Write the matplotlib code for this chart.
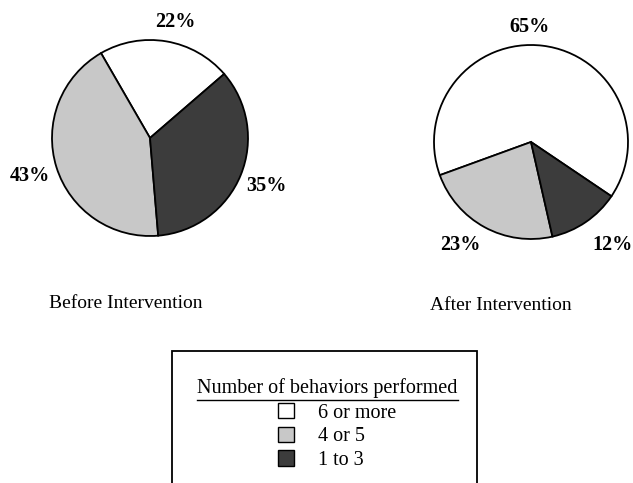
import matplotlib
matplotlib.use("Agg")
import matplotlib.pyplot as plt
from matplotlib.patches import Patch, Rectangle

plt.rcParams['font.family'] = ['Liberation Serif', 'DejaVu Serif']

categories = ['6 or more', '4 or 5', '1 to 3']
colors = ['white', '#c8c8c8', '#3c3c3c']
before = [22, 43, 35]
after = [65, 23, 12]
before_labels = ['22%', '43%', '35%']
after_labels = ['65%', '23%', '12%']

W, H = 633, 483
fig = plt.figure(figsize=(W / 100, H / 100), dpi=100)
ax = fig.add_axes([0, 0, 1, 1])

# pie charts in pixel space (y measured from the bottom)
wedge_style = dict(edgecolor='black', linewidth=1.3)
ax.pie(before, colors=colors, startangle=40.8, counterclock=True,
       center=(150, H - 138), radius=98, wedgeprops=wedge_style)
ax.pie(after, colors=colors, startangle=-34, counterclock=True,
       center=(531, H - 142), radius=97, wedgeprops=wedge_style)

ax.set_xlim(0, W)
ax.set_ylim(0, H)
ax.set_aspect('equal')
ax.axis('off')

pct_font = dict(fontsize=14.5, fontweight='bold', ha='center', va='center')
for txt, (x, y) in zip(before_labels, [(175, 22), (30, 176), (266, 186)]):
    ax.text(x, H - y, txt, **pct_font)
for txt, (x, y) in zip(after_labels, [(530, 27), (460, 245), (612, 245)]):
    ax.text(x, H - y, txt, **pct_font)

ax.text(126, H - 304, 'Before Intervention', fontsize=14, ha='center', va='center')
ax.text(501, H - 305, 'After Intervention', fontsize=14, ha='center', va='center')

# legend box runs off the bottom edge
ax.add_patch(Rectangle((172, -20), 305, H - 351 + 20, facecolor='none',
                       edgecolor='black', linewidth=1.3, clip_on=False))

title = ax.text(327.5, H - 388, 'Number of behaviors performed', fontsize=14.5,
                ha='center', va='center')

handles = [Patch(facecolor=c, edgecolor='black', linewidth=1.0) for c in colors]
leg = ax.legend(handles, categories, loc='upper left',
                bbox_to_anchor=(278 / W, 1 - 403 / H),
                frameon=False, fontsize=14.5,
                handlelength=0.8, handleheight=0.8, handletextpad=1.2,
                labelspacing=0.2, borderpad=0, borderaxespad=0)

# underline the legend title
fig.canvas.draw()
bb = title.get_window_extent()
inv = ax.transData.inverted()
(x0, _), (x1, _) = inv.transform([(bb.x0, bb.y0), (bb.x1, bb.y0)])
ax.plot([x0, x1], [H - 400, H - 400], color='black', linewidth=1.0)

fig.savefig('out.png', dpi=100)
